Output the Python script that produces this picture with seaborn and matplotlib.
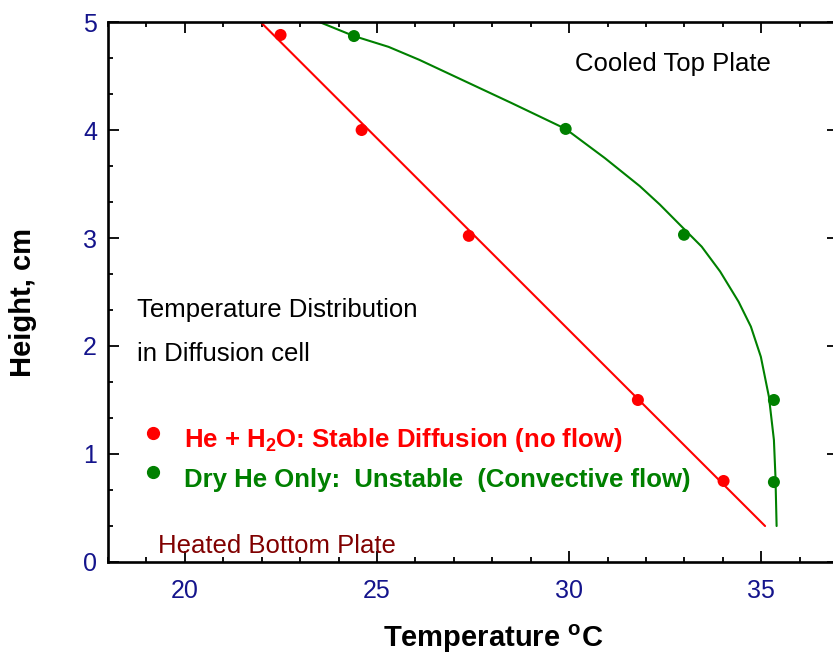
import numpy as np
import pandas as pd
import seaborn as sns
import matplotlib.pyplot as plt
from matplotlib.ticker import MultipleLocator

# measured points
he_h2o_temp = [22.49, 24.60, 27.39, 31.79, 34.02]
he_h2o_height = [4.88, 4.00, 3.02, 1.50, 0.75]
dry_he_temp = [24.40, 29.91, 32.99, 35.33, 35.33]
dry_he_height = [4.87, 4.01, 3.03, 1.50, 0.74]

# fitted curves
he_h2o_fit_temp = [21.97, 35.10]
he_h2o_fit_height = [5.00, 0.333]
dry_he_fit_temp = [23.50, 24.40, 25.30, 26.10, 27.66, 28.50, 29.91, 30.93, 31.84, 32.36,
                   32.89, 33.45, 33.93, 34.41, 34.73, 34.99, 35.20, 35.33, 35.37, 35.40]
dry_he_fit_height = [5.00, 4.87, 4.77, 4.65, 4.39, 4.25, 4.01, 3.74, 3.48, 3.31,
                     3.12, 2.92, 2.69, 2.41, 2.18, 1.90, 1.53, 1.13, 0.79, 0.333]

x_ticks = [20, 25, 30, 35]
y_ticks = [0, 1, 2, 3, 4, 5]

sns.set_style("ticks")
plt.rcParams['font.family'] = ['Liberation Sans', 'DejaVu Sans']
plt.rcParams['mathtext.fontset'] = 'custom'
plt.rcParams['mathtext.rm'] = 'Liberation Sans'
plt.rcParams['mathtext.bf'] = 'Liberation Sans:bold'
plt.rcParams['text.color'] = 'black'
plt.rcParams['axes.labelcolor'] = 'black'

red = '#ff0000'
green = '#008000'
navy = '#14148c'

fig = plt.figure(figsize=(8.33, 6.55), dpi=100)
ax = fig.add_axes([0.1297, 0.142, 0.8764, 0.8244])

pts1 = pd.DataFrame({'temp': he_h2o_temp, 'height': he_h2o_height})
pts2 = pd.DataFrame({'temp': dry_he_temp, 'height': dry_he_height})
fit1 = pd.DataFrame({'temp': he_h2o_fit_temp, 'height': he_h2o_fit_height})
fit2 = pd.DataFrame({'temp': dry_he_fit_temp, 'height': dry_he_fit_height})

sns.lineplot(data=fit1, x='temp', y='height', sort=False, estimator=None,
             color=red, lw=1.5, ax=ax)
sns.lineplot(data=fit2, x='temp', y='height', sort=False, estimator=None,
             color=green, lw=1.5, ax=ax)
sns.scatterplot(data=pts1, x='temp', y='height', color=red, s=75,
                edgecolor='none', ax=ax, zorder=3)
sns.scatterplot(data=pts2, x='temp', y='height', color=green, s=75,
                edgecolor='none', ax=ax, zorder=3)

ax.set_xlim(18, 37)
ax.set_ylim(0, 5)
ax.set_xticks(x_ticks)
ax.set_yticks(y_ticks)
ax.xaxis.set_minor_locator(MultipleLocator(1))
ax.yaxis.set_minor_locator(MultipleLocator(1 / 3))
ax.tick_params(which='both', direction='in', top=True, right=True,
               width=1.3, color='black')
ax.tick_params(which='major', length=8)
ax.tick_params(which='minor', length=3.6)
ax.tick_params(axis='x', which='major', pad=12, labelsize=18, labelcolor=navy)
ax.tick_params(axis='y', which='major', pad=8, labelsize=18, labelcolor=navy)
for s in ax.spines.values():
    s.set_linewidth(1.9)
    s.set_color('black')

ax.set_xlabel(r'Temperature $^\mathbf{o}$C', fontsize=21, fontweight='bold', color='black')
ax.set_ylabel('Height, cm', fontsize=21, fontweight='bold', color='black')
ax.xaxis.set_label_coords(0.527, -0.112)
ax.yaxis.set_label_coords(-0.097, 0.48)

# annotations
ax.text(30.16, 4.546, 'Cooled Top Plate', fontsize=18.5, color='black', va='baseline')
ax.text(18.75, 2.27, 'Temperature Distribution', fontsize=18.5, color='black', va='baseline')
ax.text(18.75, 1.86, 'in Diffusion cell', fontsize=18.5, color='black', va='baseline')
ax.text(19.30, 0.083, 'Heated Bottom Plate', fontsize=18.5, color='#800000', va='baseline')

# hand made legend
ax.plot([19.17], [1.19], 'o', color=red, ms=8.5)
ax.plot([19.17], [0.83], 'o', color=green, ms=8.5)
ax.text(19.98, 1.065, r'He + H$_\mathbf{2}$O: Stable Diffusion (no flow)',
        fontsize=18.5, fontweight='bold', color=red, va='baseline')
ax.text(19.98, 0.694, 'Dry He Only:  Unstable  (Convective flow)',
        fontsize=18.5, fontweight='bold', color=green, va='baseline')

fig.savefig('out.png', dpi=100)
